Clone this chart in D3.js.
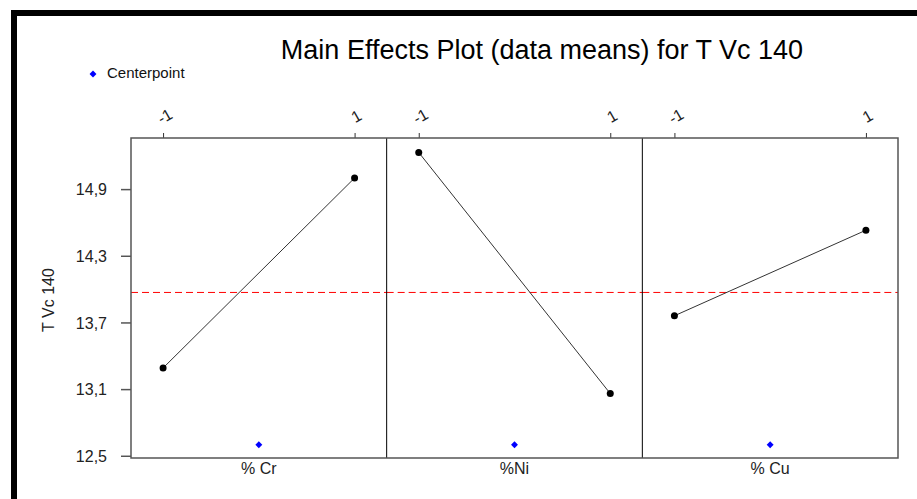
<!DOCTYPE html>
<html>
<head>
<meta charset="utf-8">
<script src="https://cdn.jsdelivr.net/npm/d3@7"></script>
<style>
    body { margin: 0; background: #fff; }
    svg { display: block; font-family: Arial, "Liberation Sans", sans-serif; }
    .title { font-size: 27px; fill: #000; }
    .legend-text { font-size: 15px; fill: #111; }
    .axis-text { font-size: 16px; fill: #222; }
    .effect-line { fill: none; stroke: #333; stroke-width: 1; }
    .mean-line { stroke: #ff0000; stroke-width: 1; stroke-dasharray: 7,4; }
    .panel-box { fill: none; stroke: #555; stroke-width: 1.5; }
    .divider { stroke: #000; stroke-width: 1; }
</style>
</head>
<body>
<svg width="917" height="499"></svg>
<script>
// Chart data
var factors = ["% Cr", "%Ni", "% Cu"];
var levels = [-1, 1];
var levelLabels = ["-1", "1"];
var lowMeans = [13.29, 15.23, 13.76];
var highMeans = [15.00, 13.06, 14.53];
var centerpoints = [12.6, 12.6, 12.6];
var grandMean = 13.97;
var yTicks = [12.5, 13.1, 13.7, 14.3, 14.9];

var svg = d3.select("svg");

// Frame border (top and left only, as in the original)
svg.append("rect").attr("x", 11).attr("y", 10).attr("width", 906).attr("height", 6).attr("fill", "#000");
svg.append("rect").attr("x", 11).attr("y", 10).attr("width", 6).attr("height", 489).attr("fill", "#000");

// Plot area
var plotLeft = 131, plotRight = 898, plotTop = 138, plotBottom = 458;

var yScale = d3.scaleLinear().domain([12.48, 15.36]).range([plotBottom, plotTop]);
var panelScale = d3.scaleBand().domain(factors).range([plotLeft, plotRight]);

// blue diamond for centerpoints
var diamond = d3.symbol().type(d3.symbolSquare).size(24);

// Title
svg.append("text")
    .attr("class", "title")
    .attr("x", 542)
    .attr("y", 59)
    .attr("text-anchor", "middle")
    .text("Main Effects Plot (data means) for T Vc 140");

// Legend
svg.append("path")
    .attr("d", diamond)
    .attr("transform", "translate(93,74) rotate(45)")
    .attr("fill", "#0000ff");
svg.append("text")
    .attr("class", "legend-text")
    .attr("x", 107)
    .attr("y", 78)
    .text("Centerpoint");

// Y axis
var yAxis = svg.append("g")
    .attr("transform", "translate(" + plotLeft + ",0)")
    .call(d3.axisLeft(yScale).tickValues(yTicks).tickSize(10)
        .tickFormat(function (d) { return d3.format(".1f")(d).replace(".", ","); }));
yAxis.attr("font-size", null).attr("font-family", null);
yAxis.select(".domain").remove();
yAxis.selectAll("line").attr("stroke", "#555").attr("stroke-width", 1.5);
yAxis.selectAll("text").attr("class", "axis-text")
    .attr("x", -24).attr("dy", "0.35em");

svg.append("text")
    .attr("class", "axis-text")
    .attr("transform", "translate(54,300) rotate(-90)")
    .attr("text-anchor", "middle")
    .text("T Vc 140");

// Panels
factors.forEach(function (f, i) {
    var x0 = panelScale(f);
    var x1 = x0 + panelScale.bandwidth();
    var xScale = d3.scaleLinear().domain([-1.335, 1.335]).range([x0, x1]);
    var g = svg.append("g");

    // Top axis with rotated labels
    var ax = g.append("g")
        .attr("transform", "translate(0," + plotTop + ")")
        .call(d3.axisTop(xScale).tickValues(levels).tickSize(5)
            .tickFormat(function (d, j) { return levelLabels[j]; }));
    ax.attr("font-size", null).attr("font-family", null);
    ax.select(".domain").remove();
    ax.selectAll("line").attr("stroke", "#333");
    ax.selectAll("text")
        .attr("class", "axis-text")
        .attr("y", 0).attr("dy", null)
        .attr("text-anchor", "middle")
        .attr("transform", "translate(4,-17) rotate(-30)");

    // Grand mean reference line
    g.append("line")
        .attr("class", "mean-line")
        .attr("x1", x0).attr("x2", x1)
        .attr("y1", yScale(grandMean)).attr("y2", yScale(grandMean));

    // Effect line
    var pts = [[-1, lowMeans[i]], [1, highMeans[i]]];
    g.append("path")
        .datum(pts)
        .attr("class", "effect-line")
        .attr("d", d3.line()
            .x(function (d) { return xScale(d[0]); })
            .y(function (d) { return yScale(d[1]); }));
    g.selectAll("circle")
        .data(pts)
        .enter()
        .append("circle")
        .attr("cx", function (d) { return xScale(d[0]); })
        .attr("cy", function (d) { return yScale(d[1]); })
        .attr("r", 3.5)
        .attr("fill", "#000");

    // Centerpoint
    g.append("path")
        .attr("d", diamond)
        .attr("transform", "translate(" + xScale(0) + "," + yScale(centerpoints[i]) + ") rotate(45)")
        .attr("fill", "#0000ff");

    // Factor label
    g.append("text")
        .attr("class", "axis-text")
        .attr("x", (x0 + x1) / 2)
        .attr("y", plotBottom + 16)
        .attr("text-anchor", "middle")
        .text(f);

    // Panel divider
    if (i > 0) {
        g.append("line")
            .attr("class", "divider")
            .attr("x1", x0).attr("x2", x0)
            .attr("y1", plotTop).attr("y2", plotBottom);
    }
});

// Outer box
svg.append("rect")
    .attr("class", "panel-box")
    .attr("x", plotLeft).attr("y", plotTop)
    .attr("width", plotRight - plotLeft).attr("height", plotBottom - plotTop);
</script>
</body>
</html>
